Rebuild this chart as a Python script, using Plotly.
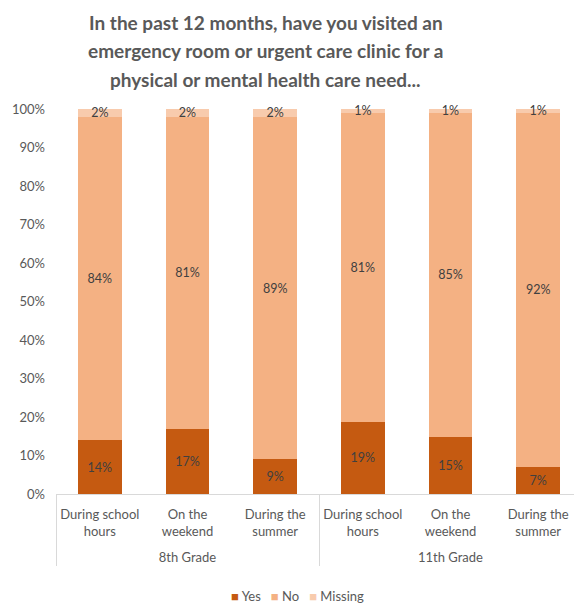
import plotly.graph_objects as go

grades = ["8th Grade", "8th Grade", "8th Grade", "11th Grade", "11th Grade", "11th Grade"]
times = ["During school<br>hours", "On the<br>weekend", "During the<br>summer",
         "During school<br>hours", "On the<br>weekend", "During the<br>summer"]
yes = [14, 17, 9, 19, 15, 7]
no = [84, 81, 89, 81, 85, 92]
missing = [2, 2, 2, 1, 1, 1]
y_ticks = [0, 10, 20, 30, 40, 50, 60, 70, 80, 90, 100]
title_lines = ["In the past 12 months, have you visited an",
               "emergency room or urgent care clinic for a",
               "physical or mental health care need..."]

series = [("Yes", yes, "#C55A11"), ("No", no, "#F4B183"), ("Missing", missing, "#F8CBAD")]

# group labels pushed one line down to mimic the spacing of the reference
x = [[" <br>" + g for g in grades], times]
font_family = "Lato, 'Open Sans', sans-serif"
lbl_color = "#404040"
axis_color = "#595959"

fig = go.Figure()
for name, vals, color in series:
    fig.add_trace(go.Bar(
        x=x, y=vals, name=name, marker=dict(color=color, line=dict(width=0)),
        text=[f"{v}%" for v in vals], textposition="inside", insidetextanchor="middle",
        constraintext="none", textangle=0, cliponaxis=False, showlegend=False,
        textfont=dict(family=font_family, size=12.5, color=lbl_color),
    ))

# title, one annotation per line (centre of each line in pixels above plot top)
for i, line in enumerate(title_lines):
    fig.add_annotation(
        text=f"<b>{line}</b>", xref="paper", yref="paper", x=0.399, y=1.0,
        yshift=87 - 28.5 * i, xanchor="center", yanchor="middle", showarrow=False,
        font=dict(family=font_family, size=19, color=axis_color),
    )

# compact legend as text
legend_text = "&nbsp;&nbsp;&nbsp;".join(
    f"<span style='color:{c}'>■</span>&nbsp;{n}" for n, _, c in series)
fig.add_annotation(
    text=legend_text, xref="paper", yref="paper", x=0.46, y=0.0, yshift=-102,
    xanchor="center", yanchor="middle", showarrow=False,
    font=dict(family=font_family, size=13, color=axis_color),
)

fig.update_layout(
    barmode="stack", barnorm="percent", bargap=0.5,
    width=574, height=596,
    margin=dict(l=48, r=0, t=101, b=110),
    paper_bgcolor="white", plot_bgcolor="white",
    font=dict(family=font_family, color=axis_color, size=13),
    showlegend=False,
)
fig.update_xaxes(type="multicategory", showline=True, linecolor="#D9D9D9", linewidth=1,
                 showdividers=True, dividercolor="#D9D9D9", dividerwidth=1,
                 tickfont=dict(size=13, color=axis_color), ticks="", automargin=False,
                 ticklabelstandoff=8)
fig.update_yaxes(range=[0, 100], tickvals=y_ticks, ticktext=[f"{v}%" for v in y_ticks],
                 showgrid=False, zeroline=False, showline=False, automargin=False,
                 ticklabelstandoff=10,
                 tickfont=dict(size=13, color=axis_color))

fig.write_html("out.html")
